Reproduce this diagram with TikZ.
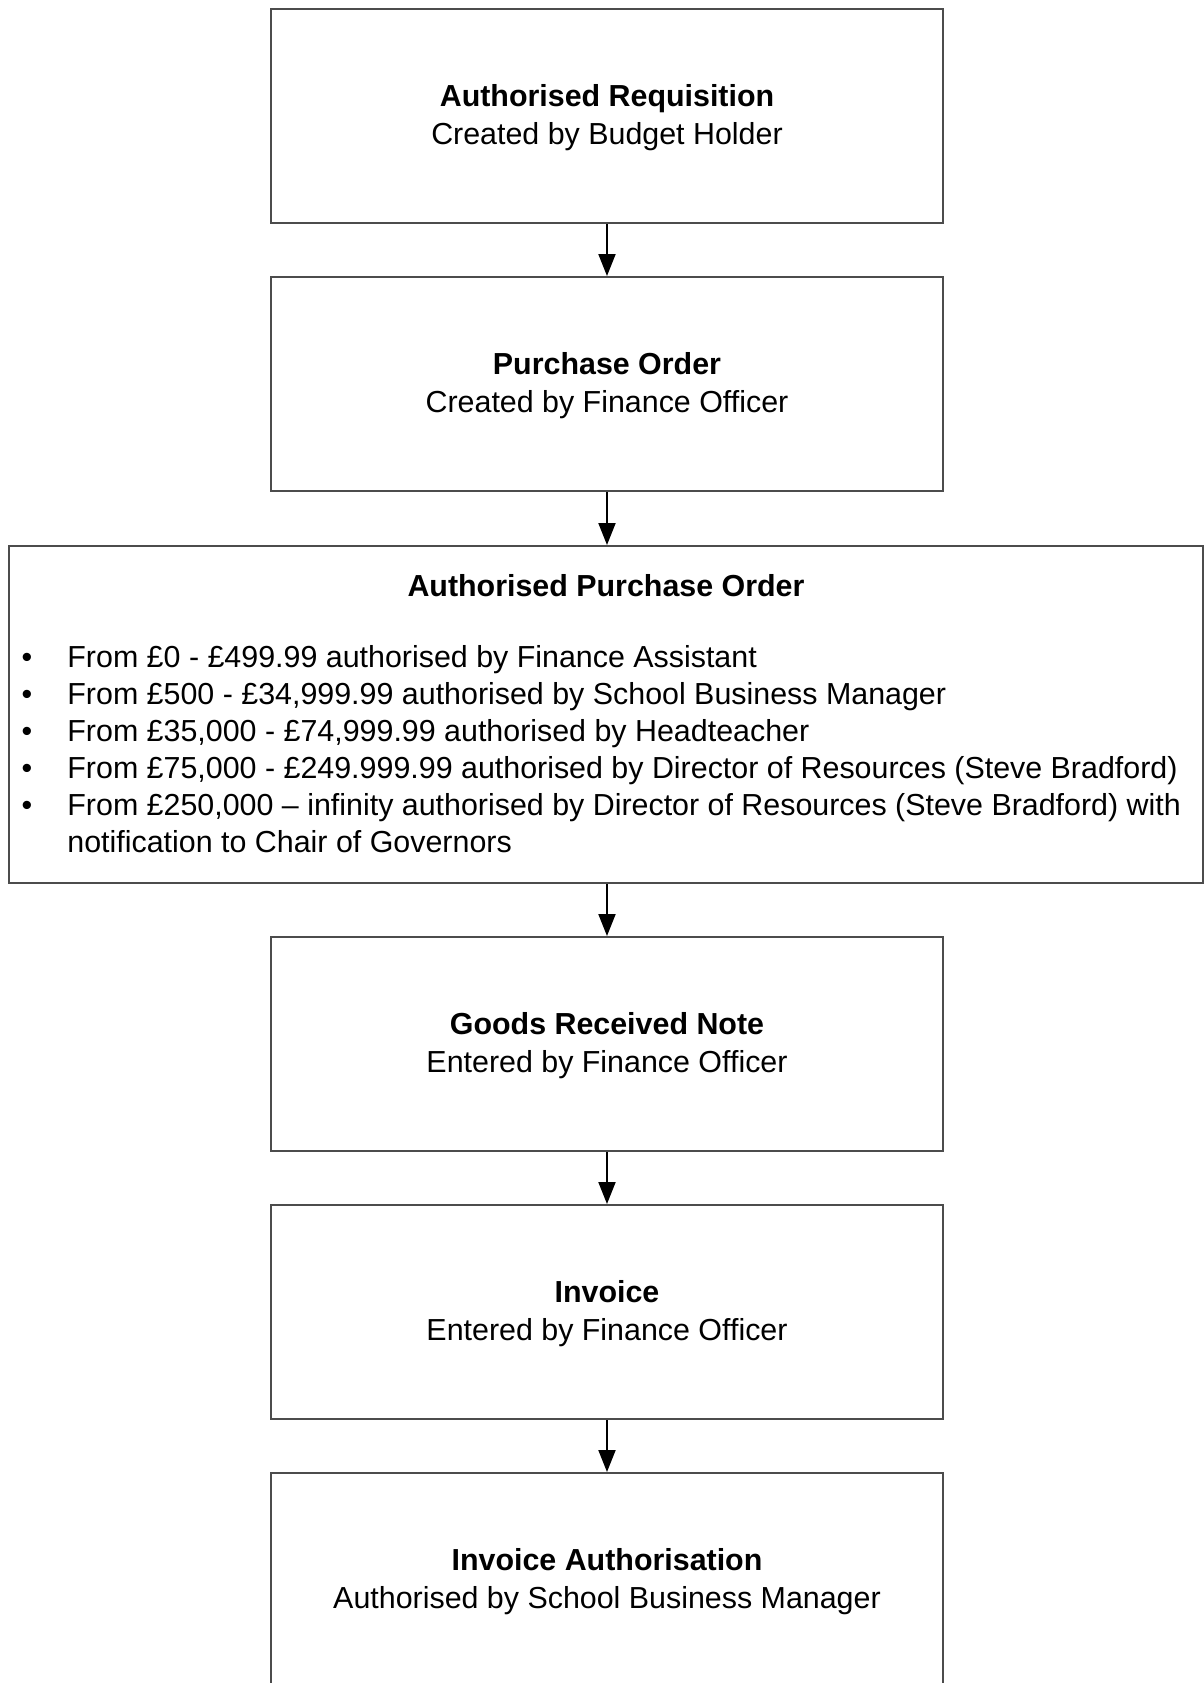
\documentclass[tikz,border=0pt]{standalone}
\usepackage{fontspec}
\setmainfont{Liberation Sans}
\usetikzlibrary{arrows.meta}

\tikzset{
  stagebox/.style={draw=black!70, line width=1pt, minimum width=336pt,
    minimum height=107pt, inner sep=0pt, align=center,
    text height=30pt, text depth=1.7pt,
    font=\fontsize{15.2}{18.75}\selectfont},
  itemtext/.style={anchor=mid west, inner sep=0pt,
    font=\fontsize{15.2}{18.75}\selectfont},
  flow/.style={-{Triangle[length=11pt,width=8.5pt]}, line width=1pt}
}

\begin{document}
\begin{tikzpicture}[x=0.5pt,y=-0.5pt]
    \useasboundingbox (0,0) rectangle (1204,1683);

    \node[stagebox] (req) at (607,116) {\textbf{Authorised Requisition}\\Created by Budget Holder};
    \node[stagebox] (po) at (607,384) {\textbf{Purchase Order}\\Created by Finance Officer};
    \node[draw=black!70, line width=1pt, minimum width=597pt, minimum height=168.5pt] (apo) at (606,714.5) {};
    \node[stagebox] (grn) at (607,1044) {\textbf{Goods Received Note}\\Entered by Finance Officer};
    \node[stagebox] (inv) at (607,1312) {\textbf{Invoice}\\Entered by Finance Officer};
    \node[stagebox] (invauth) at (607,1580) {\textbf{Invoice Authorisation}\\Authorised by School Business Manager};

    % authorisation limits
    \node[itemtext, anchor=mid] (apotitle) at (606,591) {\textbf{Authorised Purchase Order}};
    \foreach \t [count=\i from 0] in {
        {From £0 - £499.99 authorised by Finance Assistant},
        {From £500 - £34,999.99 authorised by School Business Manager},
        {From £35,000 - £74,999.99 authorised by Headteacher},
        {From £75,000 - £249.999.99 authorised by Director of Resources (Steve Bradford)},
        {From £250,000 – infinity authorised by Director of Resources (Steve Bradford) with}}
      {
        \node[itemtext, anchor=mid] (bullet\i) at (27,{662+37.1*\i}) {•};
        \node[itemtext] (limit\i) at (67,{662+37.1*\i}) {\t};
      }
    \node[itemtext] (limitcont) at (67,847.5) {notification to Chair of Governors};

    \draw[flow] (req.south) -- (po.north);
    \draw[flow] (po.south) -- (po.south |- apo.north);
    \draw[flow] (grn.north |- apo.south) -- (grn.north);
    \draw[flow] (grn.south) -- (inv.north);
    \draw[flow] (inv.south) -- (invauth.north);
  \end{tikzpicture}
\end{document}
